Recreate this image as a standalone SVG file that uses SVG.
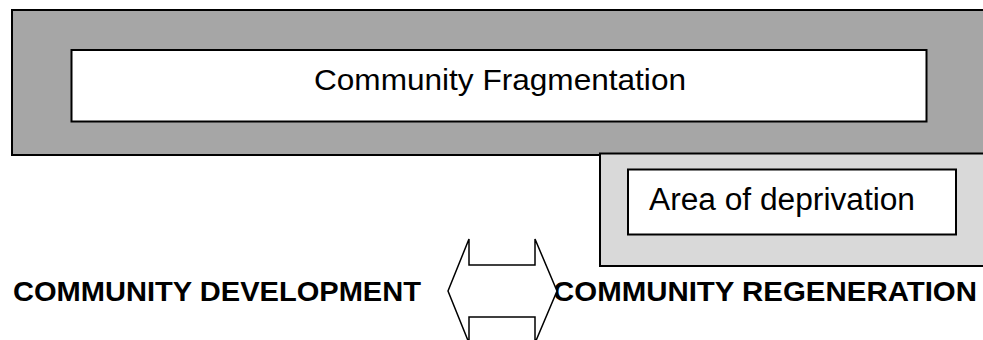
<svg xmlns="http://www.w3.org/2000/svg" width="983" height="340" viewBox="0 0 983 340">
  <style>
    .box { stroke: #000; stroke-width: 2; }
    .white { fill: #ffffff; }
    .t { font-family: "Liberation Sans", Arial, sans-serif; fill: #000; }
    .b { font-weight: bold; }
  </style>
  <rect x="0" y="0" width="983" height="340" fill="#ffffff"/>
  <g id="community-fragmentation-area">
    <rect class="box" x="12" y="10" width="990" height="145" fill="#a6a6a6"/>
  </g>
  <g id="community-fragmentation">
    <rect class="box white" x="71.5" y="50" width="855" height="71.5"/>
    <text class="t" x="314" y="90" font-size="29" textLength="372" lengthAdjust="spacingAndGlyphs">Community Fragmentation</text>
  </g>
  <g id="deprivation-area">
    <rect class="box" x="600" y="153.5" width="400" height="112.5" fill="#d9d9d9" stroke-width="1.5"/>
  </g>
  <g id="area-of-deprivation">
    <rect class="box white" x="628" y="169.5" width="328" height="65" stroke-width="1.5"/>
    <text class="t" x="649" y="210" font-size="31" textLength="266" lengthAdjust="spacingAndGlyphs">Area of deprivation</text>
  </g>
  <g id="community-development">
    <text class="t b" x="13" y="301" font-size="28.5" textLength="408" lengthAdjust="spacingAndGlyphs">COMMUNITY DEVELOPMENT</text>
  </g>
  <g id="community-regeneration">
    <text class="t b" x="553" y="301" font-size="28.5" textLength="424" lengthAdjust="spacingAndGlyphs">COMMUNITY REGENERATION</text>
  </g>
  <g id="connectors">
    <polygon points="448,291 469,239 469,265 535,265 535,239 557,291 535,343 535,317 469,317 469,343" fill="#ffffff" stroke="#000" stroke-width="1.5" stroke-linejoin="miter"/>
  </g>
</svg>
